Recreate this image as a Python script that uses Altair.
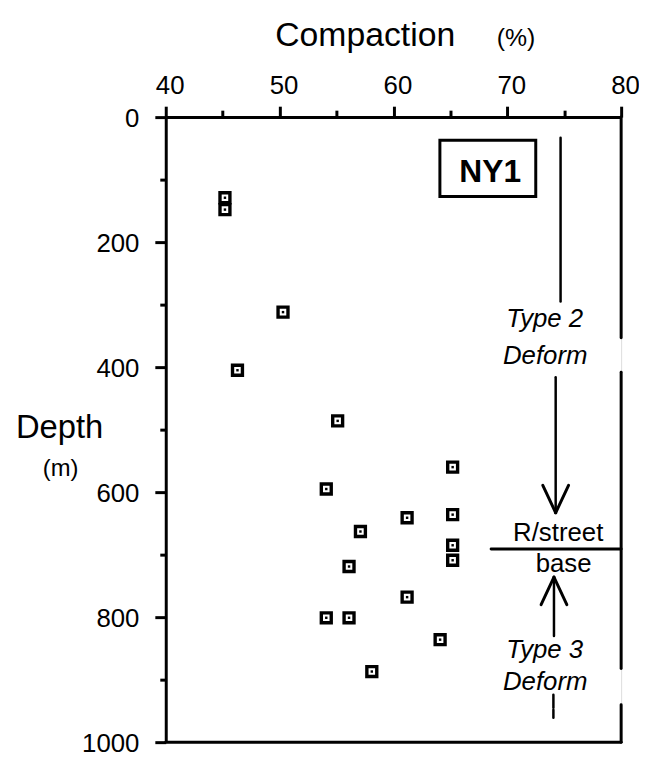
import altair as alt
import pandas as pd

FONT = "Liberation Sans"

# ---- data points (Compaction %, Depth m) ----
compaction = [45.2, 45.2, 50.3, 46.3, 55.1, 65.2, 54.1, 61.2, 65.2, 57.1,
              65.2, 65.2, 56.1, 61.2, 54.1, 56.1, 64.1, 58.1]
depth = [129, 148, 312, 405, 486, 560, 595, 641, 636, 663,
         685, 709, 719, 768, 801, 801, 836, 887]

# ---- line segments (frame pieces, annotation lines, arrows) ----
seg_x1 = [40, 80, 80, 80, 74.68, 74.25, 73.12, 75.38, 68.58, 74.1, 72.97, 75.23, 74.05, 74.05]
seg_y1 = [1000, 0, 408, 940, 33, 416, 589, 589, 691, 736, 780, 780, 924, 948]
seg_x2 = [80, 80, 80, 80, 74.68, 74.25, 74.25, 74.25, 80, 74.1, 74.1, 74.1, 74.05, 74.05]
seg_y2 = [1000, 353, 882, 1000, 295, 633, 633, 633, 691, 830, 736, 736, 945, 961]
seg_w = [3, 3, 3, 3, 2.5, 2.5, 3, 3, 3, 2.5, 3, 3, 2.5, 2.5]

# ---- NY1 box ----
box_x1, box_x2, box_y1, box_y2 = [64.08], [72.5], [37], [127]

# ---- annotation texts ----
ann_text = ["R/street", "base"]
ann_x = [74.47, 74.95]
ann_y = [678, 727.5]

ital_text = ["Type 2", "Deform", "Type 3", "Deform"]
ital_x = [73.29, 73.33, 73.29, 73.33]
ital_y = [335, 395, 866, 917]

label_text = ["NY1"]
label_x = [68.5]
label_y = [104]

xticks = [40, 45, 50, 55, 60, 65, 70, 75, 80]
yticks = [0, 100, 200, 300, 400, 500, 600, 700, 800, 900, 1000]

pts = pd.DataFrame({"x": compaction, "d": depth})
segs = pd.DataFrame({"x": seg_x1, "d": seg_y1, "x2": seg_x2, "d2": seg_y2, "w": seg_w})
box = pd.DataFrame({"x": box_x1, "x2": box_x2, "d": box_y1, "d2": box_y2})
ann = pd.DataFrame({"x": ann_x, "d": ann_y, "t": ann_text})
ital = pd.DataFrame({"x": ital_x, "d": ital_y, "t": ital_text})
lab = pd.DataFrame({"x": label_x, "d": label_y, "t": label_text})

xscale = alt.Scale(domain=[40, 80], nice=False, zero=False)
yscale = alt.Scale(domain=[0, 1000], reverse=True, nice=False, zero=False)

xaxis = alt.Axis(
    orient="top", values=xticks, title=None, grid=False,
    labelExpr="datum.value % 10 === 0 ? datum.label : ''",
    tickSize={"condition": {"test": "datum.value % 10 === 0", "value": 11}, "value": 7},
    tickWidth=3, tickColor="black", domainWidth=3, domainColor="black",
    labelFont=FONT, labelFontSize=26, labelColor="black", labelPadding=8,
    labelOffset=4, labelFlush=False, labelOverlap=False,
)
yaxis = alt.Axis(
    orient="left", values=yticks, title=None, grid=False,
    labelExpr="datum.value % 200 === 0 ? datum.label : ''",
    tickSize={"condition": {"test": "datum.value % 200 === 0", "value": 11}, "value": 6},
    tickWidth=3, tickColor="black", domainWidth=3, domainColor="black",
    labelFont=FONT, labelFontSize=26, labelColor="black", labelPadding=16,
    labelOffset=1, labelFlush=False, labelOverlap=False, format="d",
)

X = alt.X("x:Q", scale=xscale, axis=xaxis)
Y = alt.Y("d:Q", scale=yscale, axis=yaxis)

squares = alt.Chart(pts).mark_square(filled=False, size=100, strokeWidth=3.4, color="black", opacity=1).encode(x=X, y=Y)
dots = alt.Chart(pts).mark_square(filled=True, size=6, color="black", opacity=1).encode(
    x=alt.X("x:Q", scale=xscale), y=alt.Y("d:Q", scale=yscale))

lines = alt.Chart(segs).mark_rule(color="black", strokeCap="round").encode(
    x=alt.X("x:Q", scale=xscale), y=alt.Y("d:Q", scale=yscale),
    x2="x2:Q", y2="d2:Q", strokeWidth=alt.StrokeWidth("w:Q", scale=None))

boxes = alt.Chart(box).mark_rect(filled=False, stroke="black", strokeWidth=3, fillOpacity=0).encode(
    x=alt.X("x:Q", scale=xscale), x2="x2:Q",
    y=alt.Y("d:Q", scale=yscale), y2="d2:Q")

ann_l = alt.Chart(ann).mark_text(font=FONT, fontSize=26, color="black", align="center", baseline="alphabetic").encode(
    x=alt.X("x:Q", scale=xscale), y=alt.Y("d:Q", scale=yscale), text="t:N")
ital_l = alt.Chart(ital).mark_text(font=FONT, fontSize=26, fontStyle="italic", color="black", align="center", baseline="alphabetic").encode(
    x=alt.X("x:Q", scale=xscale), y=alt.Y("d:Q", scale=yscale), text="t:N")
lab_l = alt.Chart(lab).mark_text(font=FONT, fontSize=32, fontWeight="bold", color="black", align="center", baseline="alphabetic").encode(
    x=alt.X("x:Q", scale=xscale), y=alt.Y("d:Q", scale=yscale), text="t:N")

# ---- axis titles (placed outside the plot area) ----
titles = [
    ("Compaction", 34, 201, -72),
    ("(%)", 25, 353, -72),
    ("Depth", 33, -107, 323),
    ("(m)", 24, -106, 362),
]
title_layers = []
for t, fs, px, py in titles:
    title_layers.append(
        alt.Chart(pd.DataFrame({"t": [t]})).mark_text(
            font=FONT, fontSize=fs, color="black", align="center", baseline="alphabetic"
        ).encode(x=alt.value(px), y=alt.value(py), text="t:N")
    )

chart = alt.layer(lines, boxes, squares, dots, ann_l, ital_l, lab_l, *title_layers).properties(
    width=459, height=630,
    autosize=alt.AutoSizeParams(type="none"),
    padding={"left": 159, "top": 107, "right": 18, "bottom": 14},
).configure_view(stroke=None).configure(background="white")

chart.save("out.html", embed_options={"renderer": "svg", "actions": False})
